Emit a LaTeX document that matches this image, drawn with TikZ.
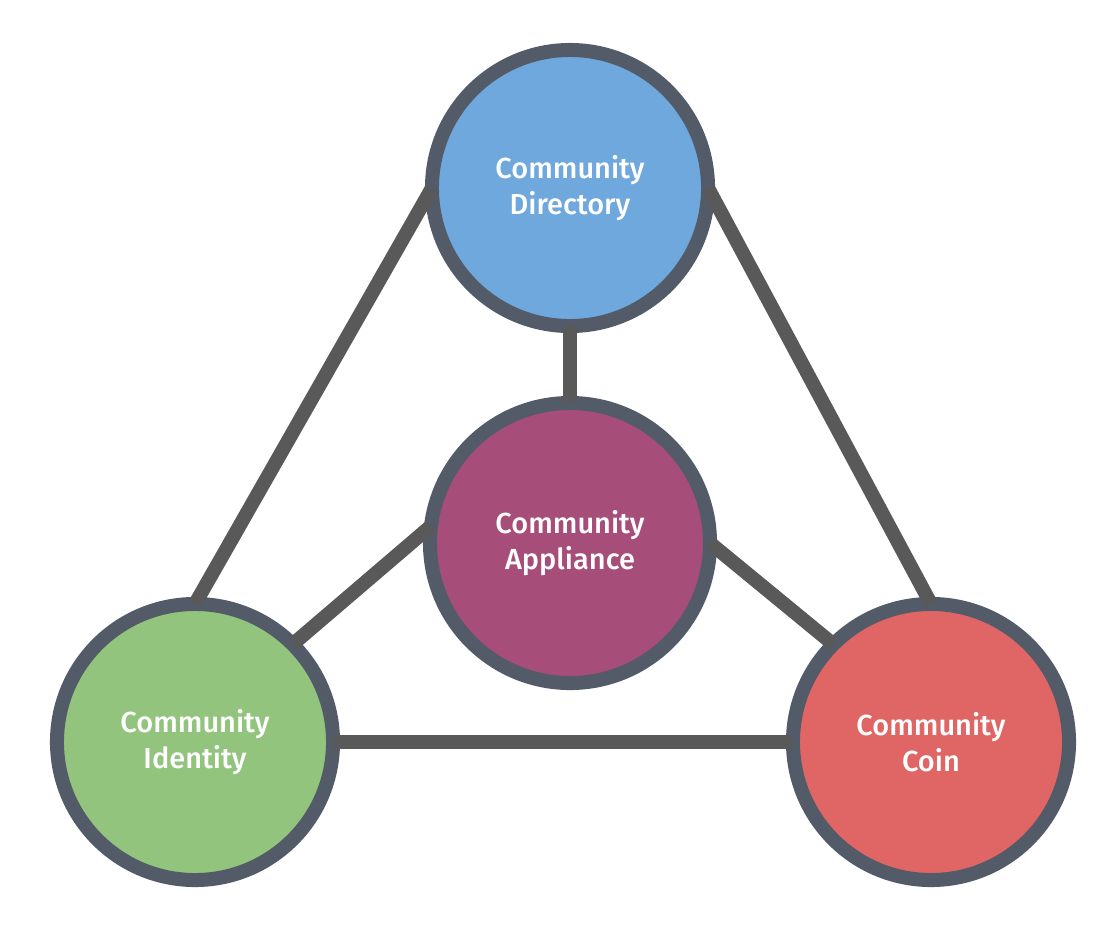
\documentclass[tikz,border=0pt]{standalone}
\usepackage{fontspec}
\setmainfont{Fira Sans}[BoldFont={Fira Sans Medium}]
\definecolor{dirblue}{HTML}{6FA8DC}
\definecolor{appplum}{HTML}{A64D79}
\definecolor{idgreen}{HTML}{93C47D}
\definecolor{coinred}{HTML}{E06666}
\definecolor{ringgray}{HTML}{525B67}
\definecolor{linkgray}{HTML}{595959}

\begin{document}
\begin{tikzpicture}[
    x=0.025cm, y=-0.025cm,
    hub/.style={%
      circle,
      draw=ringgray,
      line width=0.35cm,
      outer sep=0pt,
      minimum size=6.9cm,
      text=white,
      align=center,
      font=\bfseries\fontsize{20.6}{25.8}\selectfont,
    },
    link/.style={%
      draw=linkgray,
      line width=0.35cm,
    },
  ]
    \useasboundingbox (0,0) rectangle (1117,929);
    \node [hub, fill=dirblue] (dir) at (570,188) {Community\\Directory};
    \path (dir) ++(0,355) node [hub, fill=appplum, minimum size=7cm] (app) {Community\\Appliance};
    \path (dir) ++(-375,554) node [hub, fill=idgreen] (id) {Community\\Identity};
    \path (dir) ++(361,554) node [hub, fill=coinred] (coin) {Community\\Coin};

    \draw [link] (dir.west) -- (id.north);
    \draw [link] (dir.east) -- (coin.north);
    \draw [link] (dir.south) -- (app.north);
    \draw [link] (app.173) -- (id.45);
    \draw [link] (app.east) -- (coin.135);
    \draw [link] (id.east) -- (coin.west);
\end{tikzpicture}
\end{document}
